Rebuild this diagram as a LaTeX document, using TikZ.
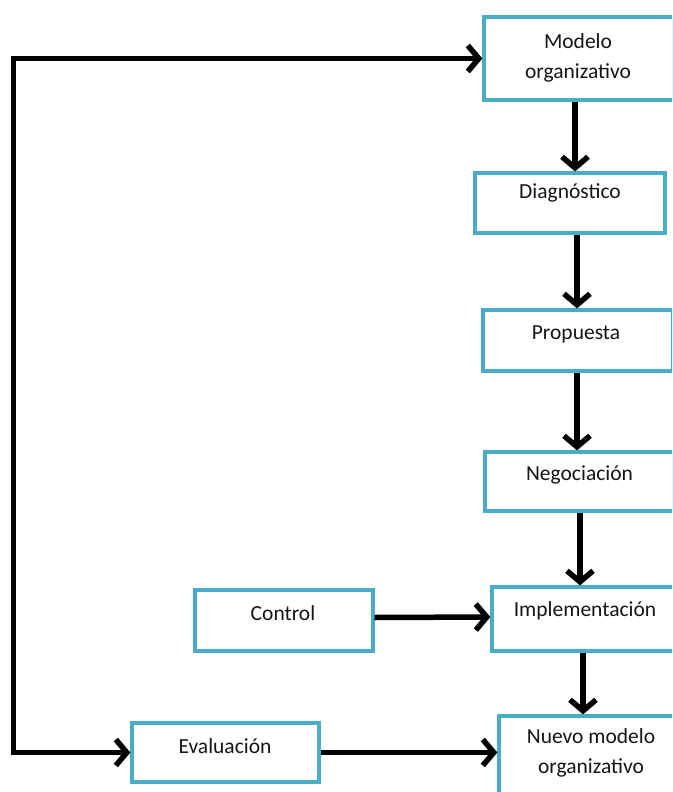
\documentclass[tikz,border=0pt]{standalone}
\usepackage{fontspec}
\setmainfont{Carlito}
\usetikzlibrary{arrows.meta}
\definecolor{boxblue}{HTML}{4BACC6}
\definecolor{ink}{HTML}{151515}
\begin{document}
\begin{tikzpicture}[x=1pt, y=-1pt,
  box/.style={draw=boxblue, line width=3.2pt, fill=white, inner sep=0pt},
  lbl/.style={text=ink, font=\fontsize{21.5}{30}\selectfont, align=center, inner sep=0pt},
  arr/.style={line width=5.5pt, -{Straight Barb[length=11pt,width=26pt]}},
  biarr/.style={line width=5.5pt, {Straight Barb[length=11pt,width=26pt]}-{Straight Barb[length=11pt,width=26pt]}}]
\useasboundingbox (0,0) rectangle (672,792);
\clip (0,0) rectangle (672,792);

% boxes
\node[box, minimum width=190pt, minimum height=83pt] (modelo) at (579,58.5) {};
\node[box, minimum width=190pt, minimum height=60pt] (diag) at (570,203) {};
\node[box, minimum width=190pt, minimum height=61pt] (prop) at (578,340.5) {};
\node[box, minimum width=189pt, minimum height=59pt] (neg) at (579.5,481.5) {};
\node[box, minimum width=186pt, minimum height=64pt] (impl) at (585,619) {};
\node[box, minimum width=178pt, minimum height=61pt] (control) at (284,620.5) {};
\node[box, minimum width=187pt, minimum height=59pt] (eval) at (225.5,752.5) {};
\node[box, minimum width=184pt, minimum height=84pt] (nuevo) at (591,758) {};

% box texts (top aligned)
\node[lbl] (modelo-t) at (578,58) {Modelo\\organizativo};
\node[lbl] (diag-t) at (570,193) {Diagnóstico};
\node[lbl] (prop-t) at (576,334) {Propuesta};
\node[lbl] (neg-t) at (579.5,475) {Negociación};
\node[lbl] (impl-t) at (585,610.5) {Implementación};
\node[lbl] (control-t) at (283,613) {Control};
\node[lbl] (eval-t) at (225,746) {Evaluación};
\node[lbl] (nuevo-t) at (591,752.5) {Nuevo modelo\\organizativo};

% main chain
\draw[arr] ([xshift=-4pt]modelo.south) -- ([xshift=5pt]diag.north);
\draw[arr] ([xshift=7pt]diag.south) -- ([xshift=-1pt]prop.north);
\draw[arr] ([xshift=-1pt]prop.south) -- ([xshift=-2.5pt]neg.north);
\draw[arr] ([xshift=0.5pt]neg.south) -- ([xshift=-5pt]impl.north);
\draw[arr] ([xshift=-2pt]impl.south) -- ([xshift=-8pt]nuevo.north);

% side inputs
\draw[arr] ([yshift=3pt]control.east) -- ([yshift=2pt]impl.west);
\draw[arr] (eval.east) -- (eval.east -| nuevo.west);

% feedback loop
\draw[biarr] (modelo.west) -- ++(-469,0) |- (eval.west);
\end{tikzpicture}
\end{document}
